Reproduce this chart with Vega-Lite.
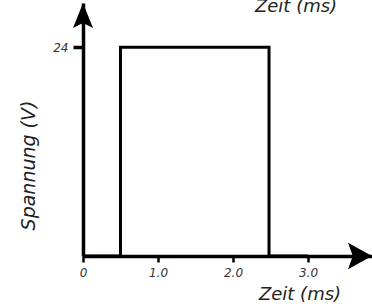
{
  "$schema": "https://vega.github.io/schema/vega-lite/v6.json",
  "width": 289,
  "height": 253,
  "autosize": {"type": "none"},
  "padding": {"left": 83, "top": 3, "right": 0, "bottom": 51},
  "datasets": {
    "signal": [
      {"i": 1, "t": 0, "v": 0},
      {"i": 2, "t": 0.5, "v": 0},
      {"i": 3, "t": 0.5, "v": 24},
      {"i": 4, "t": 2.48, "v": 24},
      {"i": 5, "t": 2.48, "v": 0},
      {"i": 6, "t": 3.0, "v": 0}
    ],
    "one": [{"label": "Zeit (ms)"}]
  },
  "layer": [
    {
      "data": {"name": "signal"},
      "mark": {"type": "line", "color": "#000000", "strokeWidth": 3, "strokeJoin": "miter", "strokeCap": "butt"},
      "encoding": {
        "x": {
          "field": "t", "type": "quantitative",
          "scale": {"domain": [0, 3.853], "nice": false, "zero": false},
          "axis": {
            "values": [0, 1, 2, 3],
            "labelExpr": "datum.value == 0 ? '0' : format(datum.value, '.1f')",
            "title": "Zeit (ms)",
            "titleX": 216.5, "titleY": 43, "titleAlign": "center", "titleBaseline": "alphabetic",
            "titleFontSize": 18,
            "tickSize": 6, "tickWidth": 2.5, "labelPadding": 5
          }
        },
        "y": {
          "field": "v", "type": "quantitative",
          "scale": {"domain": [0, 29.1], "nice": false, "zero": false},
          "axis": {
            "values": [24], "format": "d",
            "title": "Spannung (V)",
            "titleX": -49, "titleY": 162, "titleAlign": "center", "titleBaseline": "alphabetic", "titleAngle": -90,
            "titleFontSize": 19,
            "tickSize": 10, "tickWidth": 3.5, "labelPadding": 5
          }
        },
        "order": {"field": "i"}
      }
    },
    {
      "data": {"name": "one"},
      "mark": {"type": "point", "shape": "M0,0L-0.4,1L0,0.8L0.4,1Z", "filled": true, "size": 2500, "color": "#000000", "opacity": 1, "strokeWidth": 0},
      "encoding": {
        "x": {"datum": 0},
        "y": {"datum": 29.1}
      }
    },
    {
      "data": {"name": "one"},
      "mark": {"type": "point", "shape": "M0,0L-1,-0.55L-0.8,0L-1,0.55Z", "filled": true, "size": 2304, "color": "#000000", "opacity": 1, "strokeWidth": 0},
      "encoding": {
        "x": {"datum": 3.853},
        "y": {"datum": 0}
      }
    },
    {
      "data": {"name": "one"},
      "mark": {"type": "text", "font": "DejaVu Sans", "fontStyle": "italic", "fontSize": 18, "align": "center", "baseline": "alphabetic", "color": "#222222"},
      "encoding": {
        "text": {"field": "label"},
        "x": {"datum": 2.84},
        "y": {"datum": 28.1}
      }
    }
  ],
  "config": {
    "view": {"stroke": null},
    "font": "DejaVu Sans",
    "axis": {
      "grid": false,
      "domainColor": "#000000",
      "domainWidth": 3.5,
      "tickColor": "#000000",
      "labelFont": "DejaVu Sans",
      "labelFontStyle": "italic",
      "labelFontSize": 12,
      "labelColor": "#333333",
      "labelFlush": false,
      "labelOverlap": false,
      "titleFont": "DejaVu Sans",
      "titleFontStyle": "italic",
      "titleFontWeight": "normal",
      "titleColor": "#222222"
    }
  }
}
